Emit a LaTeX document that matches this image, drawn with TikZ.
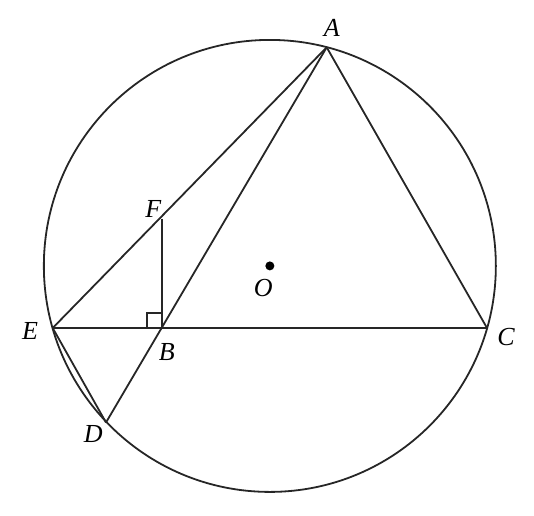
\documentclass[tikz,border=0pt]{standalone}
\usepackage{fontspec}
\setmainfont{Liberation Serif}
\begin{document}
\begin{tikzpicture}[x=1pt,y=-1pt,
  geo/.style={line width=1.8pt,black!85},
  lbl/.style={font=\fontsize{26}{28}\selectfont\itshape,inner sep=0pt}]
\useasboundingbox (0,0) rectangle (534,515);
\coordinate (O) at (269.85,265.9);
\coordinate (A) at (326.7,47.3);
\coordinate (C) at (487,328);
\coordinate (E) at (52.7,328);
\coordinate (B) at (161.7,328);
\coordinate (F) at (161.7,218.5);
\coordinate (D) at (106,422.5);
\coordinate (R1) at (146.7,328);
\coordinate (R2) at (146.7,313);
\coordinate (R3) at (161.7,313);
\draw[geo] (O) circle (226);
\draw[geo] (A) -- (C);
\draw[geo] (E) -- (C);
\draw[geo] (E) -- (A);
\draw[geo] (A) -- (D);
\draw[geo] (E) -- (D);
\draw[geo] (F) -- (B);
\draw[geo] (R1) -- (R2) -- (R3);
\fill (O) circle (4.5);
\node[lbl] (lA) at (331.7,28.3) {A};
\node[lbl] (lC) at (506,337) {C};
\node[lbl] (lE) at (30,331) {E};
\node[lbl] (lB) at (166.7,351.7) {B};
\node[lbl] (lD) at (93.3,434) {D};
\node[lbl] (lF) at (153.3,209) {F};
\node[lbl] (lO) at (263.3,288.3) {O};
\end{tikzpicture}
\end{document}
